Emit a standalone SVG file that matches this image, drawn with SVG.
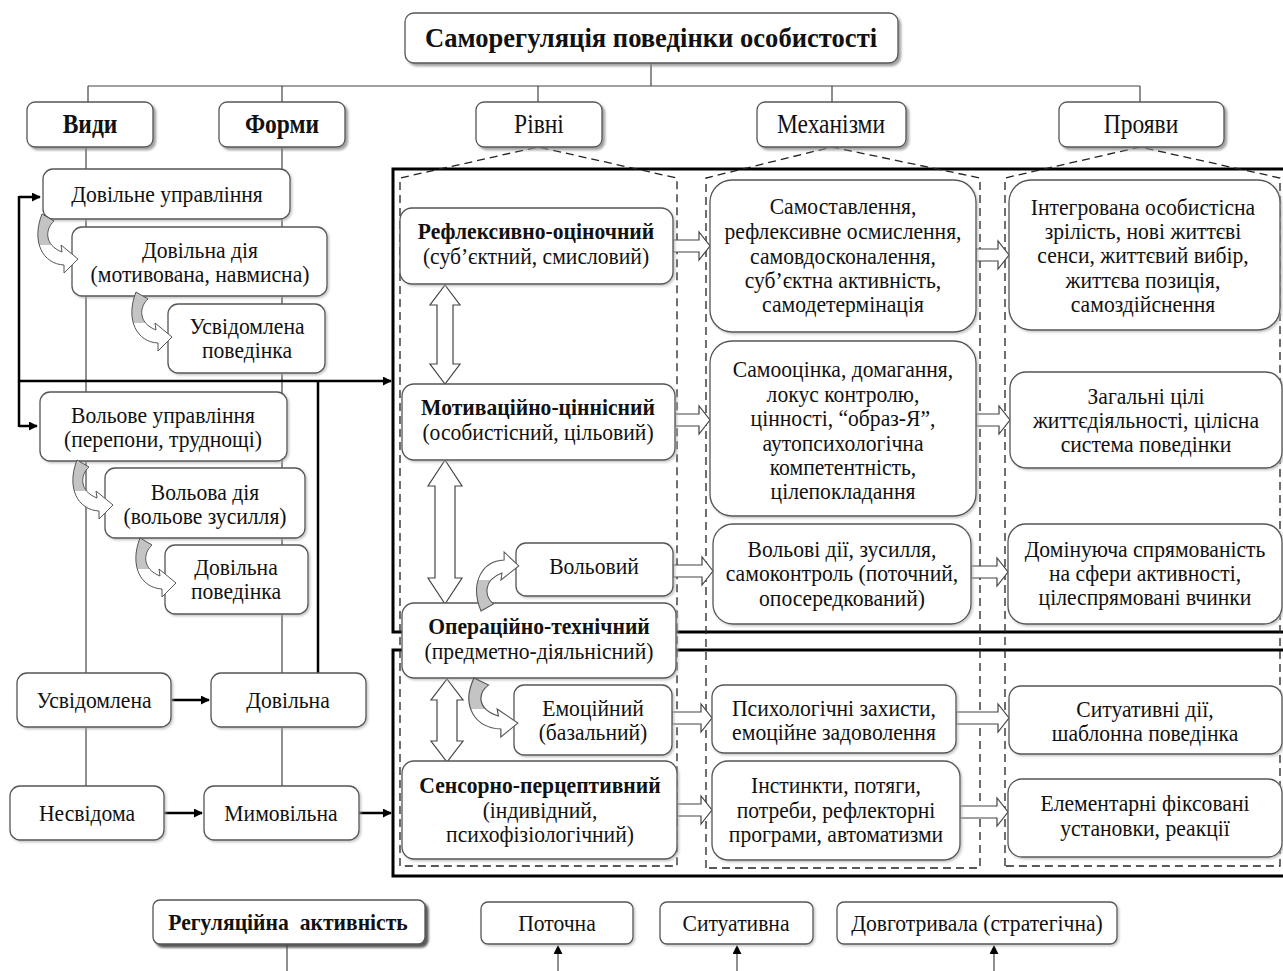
<svg xmlns="http://www.w3.org/2000/svg" xmlns:xlink="http://www.w3.org/1999/xlink" width="1283" height="971" viewBox="0 0 1283 971">
<style>
.box{fill:#fff;stroke:#555;stroke-width:1.3}
.t{font-family:"Liberation Serif","Times New Roman",serif;font-size:23px;text-anchor:middle;fill:#111;transform-box:fill-box;transform-origin:center;transform:scaleX(0.94)}
.b{font-weight:bold}
.h{font-size:27px;transform:scaleX(0.87)}
.thin{stroke:#444;stroke-width:1.2;fill:none}
.thick{stroke:#000;stroke-width:3;fill:none}
.tk2{stroke:#000;stroke-width:2.5;fill:none}
.dash{stroke:#222;stroke-width:1.3;fill:none;stroke-dasharray:8 5}
.hollow{fill:#fff;stroke:#444;stroke-width:1.2}
.curl{fill:url(#curlGrad);stroke:#555;stroke-width:1}
</style>
<defs>
<filter id="sh" x="-5%" y="-10%" width="115%" height="130%"><feDropShadow dx="2.5" dy="2.5" stdDeviation="1" flood-color="#888" flood-opacity="0.8"/></filter>
<filter id="sh2" x="-5%" y="-10%" width="115%" height="130%"><feDropShadow dx="3" dy="3" stdDeviation="0.8" flood-color="#444" flood-opacity="0.9"/></filter>
<filter id="sh0" x="-5%" y="-10%" width="115%" height="130%"><feDropShadow dx="1.5" dy="1.5" stdDeviation="0.8" flood-color="#aaa" flood-opacity="0.7"/></filter>
<marker id="ahs" viewBox="0 0 10 10" refX="9" refY="5" markerWidth="9" markerHeight="9" orient="auto" markerUnits="userSpaceOnUse"><path d="M0,0 L10,5 L0,10 Z" fill="#000"/></marker>
<linearGradient id="curlGrad" x1="0" y1="0" x2="0" y2="1"><stop offset="0" stop-color="#c4c4c4"/><stop offset="0.52" stop-color="#c4c4c4"/><stop offset="0.52" stop-color="#fff"/><stop offset="1" stop-color="#fff"/></linearGradient>
<path id="curl" d="M0,0 L12,7 C3,15 2,31 20,38 L19,31 L36,45 L22,59 L22,51 C1,50 -11,28 0,0 Z"/>
</defs>
<rect width="1283" height="971" fill="#fff"/>

<g id="connectors">
<path class="thin" d="M651,63 V86 M88,86 H1140 M88,86 V102 M282,86 V102 M538,86 V102 M832,86 V102 M1140,86 V102"/>
<path class="thin" d="M86,147 V786 M282,147 V786 M287,944 V971"/>
<path class="thick" d="M1283,169 H393 V632 H1283 M1283,650 H393 V876 H1283"/>
<path class="dash" d="M400,866 V178 L538,147 L677,178 V866 Z"/>
<path class="dash" d="M706,868 V178 L832,147 L980,178 V868 Z"/>
<path class="dash" d="M1005,866 V178 L1140,147 L1280,178 V866 Z"/>
<path class="tk2" d="M19,197 H40" marker-end="url(#ahs)"/>
<path class="tk2" d="M19,426 H37" marker-end="url(#ahs)"/>
<path class="tk2" d="M19,196 V427"/>
<path class="tk2" d="M19,381 H391" marker-end="url(#ahs)"/>
<path class="tk2" d="M318,381 V673"/>
<path class="tk2" d="M172,700 H209" marker-end="url(#ahs)"/>
<path class="tk2" d="M164,813 H202" marker-end="url(#ahs)"/>
<path class="tk2" d="M359,813 H391" marker-end="url(#ahs)"/>
<polygon class="hollow" points="445,285 460,305 453,305 453,364 460,364 445,384 430,364 437,364 437,305 430,305"/>
<polygon class="hollow" points="445,460 462,486 455,486 455,578 462,578 445,604 428,578 435,578 435,486 428,486"/>
<polygon class="hollow" points="447,679 463,700 457,700 457,741 463,741 447,762 431,741 437,741 437,700 431,700"/>
<polygon class="hollow" points="673,240 699,240 699,232 710,246 699,260 699,252 673,252"/>
<polygon class="hollow" points="675,414 699,414 699,406 710,420 699,434 699,426 675,426"/>
<polygon class="hollow" points="673,565 702,565 702,557 713,571 702,585 702,577 673,577"/>
<polygon class="hollow" points="672,712 701,712 701,704 712,718 701,732 701,724 672,724"/>
<polygon class="hollow" points="677,804 701,804 701,796 712,810 701,824 701,816 677,816"/>
<polygon class="hollow" points="976,249 998,249 998,241 1009,255 998,269 998,261 976,261"/>
<polygon class="hollow" points="976,414 999,414 999,406 1010,420 999,434 999,426 976,426"/>
<polygon class="hollow" points="971,566 997,566 997,558 1008,572 997,586 997,578 971,578"/>
<polygon class="hollow" points="956,712 998,712 998,704 1009,718 998,732 998,724 956,724"/>
<polygon class="hollow" points="960,806 997,806 997,798 1008,812 997,826 997,818 960,818"/>
<path class="thin" d="M558,971 V946" stroke="#000" marker-end="url(#ahs)"/>
<path class="thin" d="M737,971 V946" stroke="#000" marker-end="url(#ahs)"/>
<path class="thin" d="M994,971 V946" stroke="#000" marker-end="url(#ahs)"/>
</g>

<g id="title"><rect class="box" x="405" y="13" width="493" height="50" rx="9" filter="url(#sh)"/><text class="t b" x="651" y="47" style="font-size:28px;transform:scaleX(0.95)">Саморегуляція поведінки особистості</text></g>
<g id="h-vydy"><rect class="box" x="27" y="102" width="126" height="45" rx="8" filter="url(#sh)"/><text class="t b h" x="90" y="133">Види</text></g>
<g id="h-formy"><rect class="box" x="219" y="102" width="126" height="45" rx="8" filter="url(#sh)"/><text class="t b h" x="282" y="133">Форми</text></g>
<g id="h-rivni"><rect class="box" x="476" y="102" width="126" height="45" rx="8" filter="url(#sh)"/><text class="t h" x="539" y="133">Рівні</text></g>
<g id="h-mech"><rect class="box" x="757" y="102" width="149" height="45" rx="8" filter="url(#sh)"/><text class="t h" x="831" y="133">Механізми</text></g>
<g id="h-proyavy"><rect class="box" x="1059" y="102" width="165" height="45" rx="8" filter="url(#sh)"/><text class="t h" x="1141" y="133">Прояви</text></g>

<g id="n-dov-upr"><rect class="box" x="43" y="169" width="247" height="50" rx="10" filter="url(#sh0)"/><text class="t" x="167" y="202">Довільне управління</text></g>
<g id="n-dov-diya"><rect class="box" x="72" y="227" width="255" height="69" rx="10" filter="url(#sh0)"/><text class="t" x="200" y="258">Довільна дія</text><text class="t" x="200" y="282">(мотивована, навмисна)</text></g>
<g id="n-usv-pov"><rect class="box" x="168" y="304" width="157" height="69" rx="10" filter="url(#sh0)"/><text class="t" x="247" y="334">Усвідомлена</text><text class="t" x="247" y="358">поведінка</text></g>
<g id="n-vol-upr"><rect class="box" x="40" y="392" width="247" height="69" rx="10" filter="url(#sh0)"/><text class="t" x="163" y="423">Вольове управління</text><text class="t" x="163" y="447">(перепони, труднощі)</text></g>
<g id="n-vol-diya"><rect class="box" x="105" y="468" width="200" height="70" rx="10" filter="url(#sh0)"/><text class="t" x="205" y="500">Вольова дія</text><text class="t" x="205" y="524">(вольове зусилля)</text></g>
<g id="n-dov-pov"><rect class="box" x="165" y="545" width="143" height="69" rx="10" filter="url(#sh0)"/><text class="t" x="236" y="575">Довільна</text><text class="t" x="236" y="599">поведінка</text></g>
<g id="n-usv"><rect class="box" x="17" y="673" width="154" height="54" rx="10" filter="url(#sh0)"/><text class="t" x="94" y="708">Усвідомлена</text></g>
<g id="n-dovilna"><rect class="box" x="211" y="673" width="155" height="54" rx="10" filter="url(#sh0)"/><text class="t" x="288" y="708">Довільна</text></g>
<g id="n-nesv"><rect class="box" x="10" y="786" width="154" height="54" rx="10" filter="url(#sh0)"/><text class="t" x="87" y="821">Несвідома</text></g>
<g id="n-mymov"><rect class="box" x="204" y="786" width="155" height="54" rx="10" filter="url(#sh0)"/><text class="t" x="281" y="821">Мимовільна</text></g>

<g id="l-refl"><rect class="box" x="400" y="208" width="273" height="76" rx="12" filter="url(#sh0)"/><text class="t b" x="536" y="239">Рефлексивно-оціночний</text><text class="t" x="536" y="264">(суб’єктний, смисловий)</text></g>
<g id="l-motiv"><rect class="box" x="402" y="384" width="273" height="76" rx="12" filter="url(#sh0)"/><text class="t b" x="538" y="415">Мотиваційно-ціннісний</text><text class="t" x="538" y="440">(особистісний, цільовий)</text></g>
<g id="l-volovyi"><rect class="box" x="516" y="543" width="157" height="53" rx="10" filter="url(#sh0)"/><text class="t" x="594" y="574">Вольовий</text></g>
<g id="l-oper"><rect class="box" x="402" y="603" width="274" height="75" rx="12" filter="url(#sh0)"/><text class="t b" x="539" y="634">Операційно-технічний</text><text class="t" x="539" y="659">(предметно-діяльнісний)</text></g>
<g id="l-emots"><rect class="box" x="514" y="685" width="158" height="70" rx="10" filter="url(#sh0)"/><text class="t" x="593" y="716">Емоційний</text><text class="t" x="593" y="740">(базальний)</text></g>
<g id="l-sens"><rect class="box" x="402" y="761" width="275" height="98" rx="12" filter="url(#sh0)"/><text class="t b" x="540" y="793">Сенсорно-перцептивний</text><text class="t" x="540" y="818">(індивідний,</text><text class="t" x="540" y="842">психофізіологічний)</text></g>

<g id="m-1"><rect class="box" x="710" y="180" width="266" height="152" rx="22" filter="url(#sh0)"/><text class="t" x="843" y="214">Самоставлення,</text><text class="t" x="843" y="239">рефлексивне осмислення,</text><text class="t" x="843" y="264">самовдосконалення,</text><text class="t" x="843" y="288">суб’єктна активність,</text><text class="t" x="843" y="312">самодетермінація</text></g>
<g id="m-2"><rect class="box" x="710" y="341" width="266" height="175" rx="22" filter="url(#sh0)"/><text class="t" x="843" y="377">Самооцінка, домагання,</text><text class="t" x="843" y="402">локус контролю,</text><text class="t" x="843" y="426">цінності, “образ-Я”,</text><text class="t" x="843" y="451">аутопсихологічна</text><text class="t" x="843" y="475">компетентність,</text><text class="t" x="843" y="499">цілепокладання</text></g>
<g id="m-3"><rect class="box" x="713" y="524" width="258" height="100" rx="20" filter="url(#sh0)"/><text class="t" x="842" y="557">Вольові дії, зусилля,</text><text class="t" x="842" y="581">самоконтроль (поточний,</text><text class="t" x="842" y="606">опосередкований)</text></g>
<g id="m-4"><rect class="box" x="712" y="685" width="244" height="68" rx="12" filter="url(#sh0)"/><text class="t" x="834" y="716">Психологічні захисти,</text><text class="t" x="834" y="740">емоційне задоволення</text></g>
<g id="m-5"><rect class="box" x="712" y="761" width="248" height="99" rx="16" filter="url(#sh0)"/><text class="t" x="836" y="793">Інстинкти, потяги,</text><text class="t" x="836" y="818">потреби, рефлекторні</text><text class="t" x="836" y="842">програми, автоматизми</text></g>

<g id="p-1"><rect class="box" x="1009" y="180" width="271" height="150" rx="22" filter="url(#sh0)"/><text class="t" x="1143" y="215">Інтегрована особистісна</text><text class="t" x="1143" y="239">зрілість, нові життєві</text><text class="t" x="1143" y="263">сенси, життєвий вибір,</text><text class="t" x="1143" y="288">життєва позиція,</text><text class="t" x="1143" y="312">самоздійснення</text></g>
<g id="p-2"><rect class="box" x="1010" y="372" width="272" height="96" rx="16" filter="url(#sh0)"/><text class="t" x="1146" y="404">Загальні цілі</text><text class="t" x="1146" y="428">життєдіяльності, цілісна</text><text class="t" x="1146" y="452">система поведінки</text></g>
<g id="p-3"><rect class="box" x="1008" y="524" width="274" height="100" rx="18" filter="url(#sh0)"/><text class="t" x="1145" y="557">Домінуюча спрямованість</text><text class="t" x="1145" y="581">на сфери активності,</text><text class="t" x="1145" y="605">цілеспрямовані вчинки</text></g>
<g id="p-4"><rect class="box" x="1009" y="686" width="273" height="68" rx="12" filter="url(#sh0)"/><text class="t" x="1145" y="717">Ситуативні дії,</text><text class="t" x="1145" y="741">шаблонна поведінка</text></g>
<g id="p-5"><rect class="box" x="1008" y="779" width="274" height="78" rx="14" filter="url(#sh0)"/><text class="t" x="1145" y="811">Елементарні фіксовані</text><text class="t" x="1145" y="836">установки, реакції</text></g>

<g id="b-reg"><rect class="box" x="153" y="900" width="272" height="44" rx="7" filter="url(#sh2)"/><text class="t b" x="288" y="930" xml:space="preserve">Регуляційна  активність</text></g>
<g id="b-potochna"><rect class="box" x="481" y="902" width="152" height="42" rx="7" filter="url(#sh0)"/><text class="t" x="557" y="931">Поточна</text></g>
<g id="b-sytuat"><rect class="box" x="660" y="902" width="153" height="42" rx="7" filter="url(#sh0)"/><text class="t" x="736" y="931">Ситуативна</text></g>
<g id="b-dovgo"><rect class="box" x="837" y="902" width="280" height="42" rx="7" filter="url(#sh0)"/><text class="t" x="977" y="931">Довготривала (стратегічна)</text></g>

<g id="curved-connectors">
<use xlink:href="#curl" class="curl" transform="translate(42,214)"/>
<use xlink:href="#curl" class="curl" transform="translate(136,292)"/>
<use xlink:href="#curl" class="curl" transform="translate(77,460)"/>
<use xlink:href="#curl" class="curl" transform="translate(140,538)"/>
<use xlink:href="#curl" class="curl" transform="translate(481,611) scale(1.05,-1)"/>
<use xlink:href="#curl" class="curl" transform="translate(474,678) scale(1.22,1)"/>
</g>
</svg>
